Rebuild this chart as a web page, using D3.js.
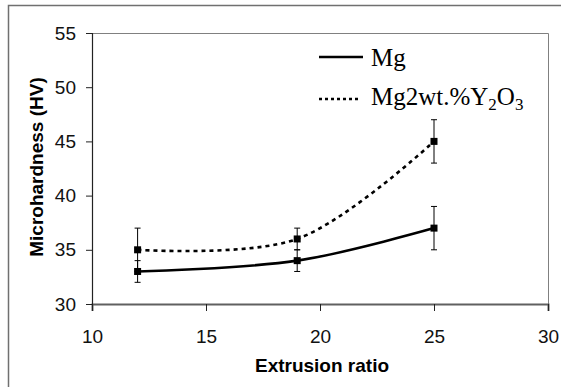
<!DOCTYPE html>
<html>
<head>
<meta charset="utf-8">
<script src="https://cdn.jsdelivr.net/npm/d3@7"></script>
<style>
  body { margin: 0; background: #fff; }
  svg { display: block; }
</style>
</head>
<body>
<div id="chart"></div>
<script>
// data
const ratios = [12, 19, 25];
const mgValues = [33, 34, 37];
const mgErrors = [1, 1, 2];
const y2o3Values = [35, 36, 45];
const y2o3Errors = [2, 1, 2];
const xTicks = [10, 15, 20, 25, 30];
const yTicks = [30, 35, 40, 45, 50, 55];

const W = 561, H = 387;
const margin = {top: 33, right: 13, bottom: 83, left: 92};
const width = W - margin.left - margin.right;
const height = H - margin.top - margin.bottom;

const sans = 'Arial, "Liberation Sans", sans-serif';
const serif = '"Liberation Serif", "Times New Roman", serif';

const svg = d3.select('#chart').append('svg')
    .attr('width', W)
    .attr('height', H);

// outer frame (runs off the right/bottom edge)
svg.append('rect')
    .attr('x', 8.5).attr('y', 5.5)
    .attr('width', W + 10).attr('height', H + 10)
    .attr('fill', 'none')
    .attr('stroke', '#707070')
    .attr('stroke-width', 1.5);

const g = svg.append('g')
    .attr('transform', `translate(${margin.left},${margin.top})`);

const x = d3.scaleLinear().domain([10, 30]).range([0, width]);
const y = d3.scaleLinear().domain([30, 55]).range([height, 0]);

// plot area border (top/right, gray)
g.append('path')
    .attr('d', `M0,0.5H${width + 0.5}V${height}`)
    .attr('fill', 'none')
    .attr('stroke', '#808080')
    .attr('stroke-width', 1);

// axes
const xAxis = g.append('g')
    .attr('transform', `translate(0,${height})`)
    .call(d3.axisBottom(x).tickValues(xTicks).tickSize(7).tickPadding(19));
const yAxis = g.append('g')
    .call(d3.axisLeft(y).tickValues(yTicks).tickSize(6).tickPadding(10));

xAxis.select('.domain').attr('stroke', '#606060').attr('stroke-width', 2);
yAxis.select('.domain').attr('stroke', '#222').attr('stroke-width', 1.2);
[xAxis, yAxis].forEach(a => {
    a.selectAll('text')
        .style('font-family', sans)
        .style('font-size', '19px')
        .attr('fill', '#111');
    a.selectAll('.tick line').attr('stroke', '#222');
});

// axis titles
g.append('text')
    .attr('x', width / 2 + 2)
    .attr('y', 372 - margin.top)
    .attr('text-anchor', 'middle')
    .style('font-family', sans)
    .style('font-size', '19px')
    .style('font-weight', 'bold')
    .text('Extrusion ratio');

g.append('text')
    .attr('transform', `translate(${43 - margin.left},${167 - margin.top}) rotate(-90)`)
    .attr('text-anchor', 'middle')
    .style('font-family', sans)
    .style('font-size', '19px')
    .style('font-weight', 'bold')
    .text('Microhardness (HV)');

const series = [
    {name: 'Mg', values: mgValues, errors: mgErrors, dash: null},
    {name: 'Y2O3', values: y2o3Values, errors: y2o3Errors, dash: '4,4'}
];

const line = d3.line()
    .x(d => x(d[0]))
    .y(d => y(d[1]))
    .curve(d3.curveCatmullRom.alpha(0.5));

series.forEach(s => {
    const pts = ratios.map((r, i) => [r, s.values[i], s.errors[i]]);

    g.append('path')
        .datum(pts)
        .attr('d', line)
        .attr('fill', 'none')
        .attr('stroke', '#000')
        .attr('stroke-width', 2.6)
        .attr('stroke-dasharray', s.dash);

    // error bars
    const eb = g.selectAll(null).data(pts).enter().append('g');
    eb.append('line')
        .attr('x1', d => x(d[0])).attr('x2', d => x(d[0]))
        .attr('y1', d => y(d[1] - d[2])).attr('y2', d => y(d[1] + d[2]))
        .attr('stroke', '#000').attr('stroke-width', 1);
    eb.append('line')
        .attr('x1', d => x(d[0]) - 3).attr('x2', d => x(d[0]) + 3)
        .attr('y1', d => y(d[1] - d[2])).attr('y2', d => y(d[1] - d[2]))
        .attr('stroke', '#000').attr('stroke-width', 1);
    eb.append('line')
        .attr('x1', d => x(d[0]) - 3).attr('x2', d => x(d[0]) + 3)
        .attr('y1', d => y(d[1] + d[2])).attr('y2', d => y(d[1] + d[2]))
        .attr('stroke', '#000').attr('stroke-width', 1);

    // square markers
    g.selectAll(null).data(pts).enter().append('rect')
        .attr('x', d => x(d[0]) - 3.5)
        .attr('y', d => y(d[1]) - 3.5)
        .attr('width', 7).attr('height', 7)
        .attr('fill', '#000');
});

// legend
const leg = svg.append('g');
leg.append('line')
    .attr('x1', 319).attr('x2', 363).attr('y1', 57).attr('y2', 57)
    .attr('stroke', '#000').attr('stroke-width', 2.6);
leg.append('text')
    .attr('x', 371).attr('y', 66)
    .style('font-family', serif)
    .style('font-size', '25px')
    .text('Mg');
leg.append('line')
    .attr('x1', 319).attr('x2', 360).attr('y1', 99).attr('y2', 99)
    .attr('stroke', '#000').attr('stroke-width', 2.6)
    .attr('stroke-dasharray', '3,3');
const t2 = leg.append('text')
    .attr('x', 371).attr('y', 105)
    .style('font-family', serif)
    .style('font-size', '25px');
t2.append('tspan').text('Mg2wt.%Y');
t2.append('tspan').attr('dy', 5).style('font-size', '17px').text('2');
t2.append('tspan').attr('dy', -5).text('O');
t2.append('tspan').attr('dy', 5).style('font-size', '17px').text('3');
</script>
</body>
</html>
